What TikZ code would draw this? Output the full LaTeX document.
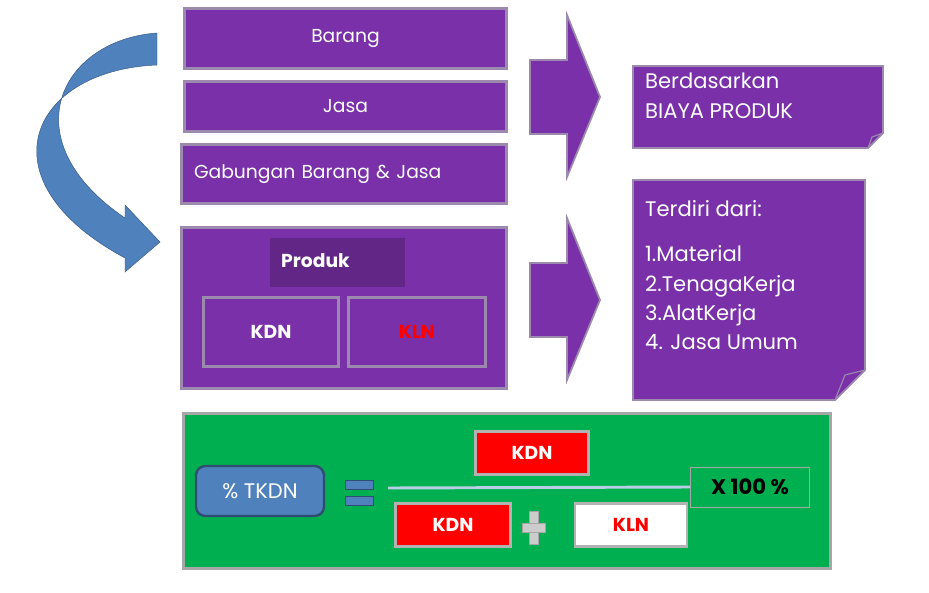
\documentclass[tikz,border=0pt]{standalone}
\usepackage{fontspec}
\setmainfont{Poppins}
\usetikzlibrary{calc, positioning, shapes.geometric, arrows.meta}
\definecolor{ungu}{HTML}{7A30A8}
\definecolor{ungutepi}{HTML}{9B8AAE}
\definecolor{hijau}{HTML}{00B050}
\definecolor{biru}{HTML}{4F81BD}
\definecolor{merah}{HTML}{FF0000}
\newcommand{\hurufbesar}{\fontsize{16}{19}\selectfont}
\newcommand{\hurufnota}{\fontsize{18}{25}\selectfont}
\tikzset{
  kotak/.style={draw=ungutepi, line width=2.5pt, fill=ungu, text=white, font=\hurufbesar},
  tombol/.style={draw=gray!60, line width=2.5pt, fill=merah, text=white, font=\hurufbesar\bfseries},
  catatan/.style={draw=ungutepi, line width=1.5pt, fill=ungu},
  panah/.style={fill=ungu, draw=ungutepi, line width=1.5pt}
}
\begin{document}
\begin{tikzpicture}[x=0.03cm, y=-0.03cm]
  \useasboundingbox (0,0) rectangle (929,593);

  % jenis produk
  \node[kotak, minimum width=322*0.03cm, minimum height=60*0.03cm] (barang) at (345.5,38.5) {Barang};
  \node[kotak, minimum width=322*0.03cm, minimum height=50*0.03cm] (jasa) at (345.5,106.5) {Jasa};
  \node[kotak, minimum width=325*0.03cm, minimum height=59*0.03cm, text width=300*0.03cm, align=left] (gabungan) at (344,174) {Gabungan Barang \& Jasa};

  % kotak produk
  \node[kotak, minimum width=325*0.03cm, minimum height=161*0.03cm] (produk) at (344,308) {};
  \fill[ungu!80!black] (270,238) rectangle (405,287);
  \node[text=white, font=\hurufbesar\bfseries, anchor=west] (lblproduk) at (277,261) {Produk};
  \node[kotak, font=\hurufbesar\bfseries, minimum width=135*0.03cm, minimum height=69*0.03cm] (kdn) at (271,332) {KDN};
  \node[kotak, font=\hurufbesar\bfseries, text=merah, minimum width=137*0.03cm, minimum height=69*0.03cm] (kln) at (417,332) {KLN};

  % panah blok
  \foreach \ty in {97,300} {
    \draw[panah] (530,\ty-37) -- (567,\ty-37) -- (567,\ty-82) -- (600,\ty) -- (567,\ty+80) -- (567,\ty+37) -- (530,\ty+37) -- cycle;
  }

  % catatan
  \draw[catatan] (633,66) -- (883,66) -- (883,133) -- (868,148) -- (633,148) -- cycle;
  \draw[ungutepi, line width=1pt] (868,148) -- (872,137) -- (883,133);
  \node[text=white, font=\hurufnota, align=left, anchor=north west, inner sep=0pt] (biaya) at (645,73) {Berdasarkan\\BIAYA PRODUK};
  \draw[catatan] (633,180) -- (865,180) -- (865,370) -- (835,400) -- (633,400) -- cycle;
  \draw[ungutepi, line width=1pt] (835,400) -- (845,375) -- (865,370);
  \node[text=white, font=\hurufnota, align=left, anchor=north west, inner sep=0pt] (rincian) at (645,200) {Terdiri dari:\\[14pt]1.Material\\2.TenagaKerja\\3.AlatKerja\\4. Jasa Umum};

  % panah lengkung
  \fill[biru, draw=biru!70!black] (157,33) .. controls (60,40) and (10,140) .. (125,218)
    -- (125,205) -- (160,242) -- (125,272) -- (125,258)
    .. controls (-20,180) and (30,70) .. (157,65) -- cycle;

  % rumus TKDN
  \node[draw=gray!70, line width=3pt, fill=hijau, minimum width=647*0.03cm, minimum height=155*0.03cm] (rumus) at (507,491) {};
  \node[draw=biru!60!black, line width=2pt, fill=biru, rounded corners=8pt, text=white, font=\hurufnota, minimum width=128*0.03cm, minimum height=50*0.03cm] (tkdn) at (260,491) {\% TKDN};
  \fill[biru, draw=biru!60!black] (345,480) rectangle (373,489);
  \fill[biru, draw=biru!60!black] (345,496) rectangle (373,505);
  \node[draw=gray!70, line width=0.5pt, font=\hurufnota\bfseries, minimum width=119*0.03cm, minimum height=40*0.03cm] (kali) at (750,487) {X 100 \%};
  \coordinate (garis) at (388,488);
  \draw[biru!40, line width=2.5pt] (garis) -- (kali.west);
  \node[tombol, minimum width=113*0.03cm, minimum height=43*0.03cm] (kdnatas) at (532,453) {KDN};
  \node[tombol, minimum width=115*0.03cm, minimum height=43*0.03cm] (kdnbawah) at (453,525) {KDN};
  \node[tombol, fill=white, text=merah, minimum width=112*0.03cm, minimum height=43*0.03cm] (klnbawah) at (631,525) {KLN};
  \fill[gray!40, draw=gray!70] (529,511) rectangle (538,544);
  \fill[gray!40, draw=gray!70] (522,523) rectangle (545,532);
\end{tikzpicture}
\end{document}
